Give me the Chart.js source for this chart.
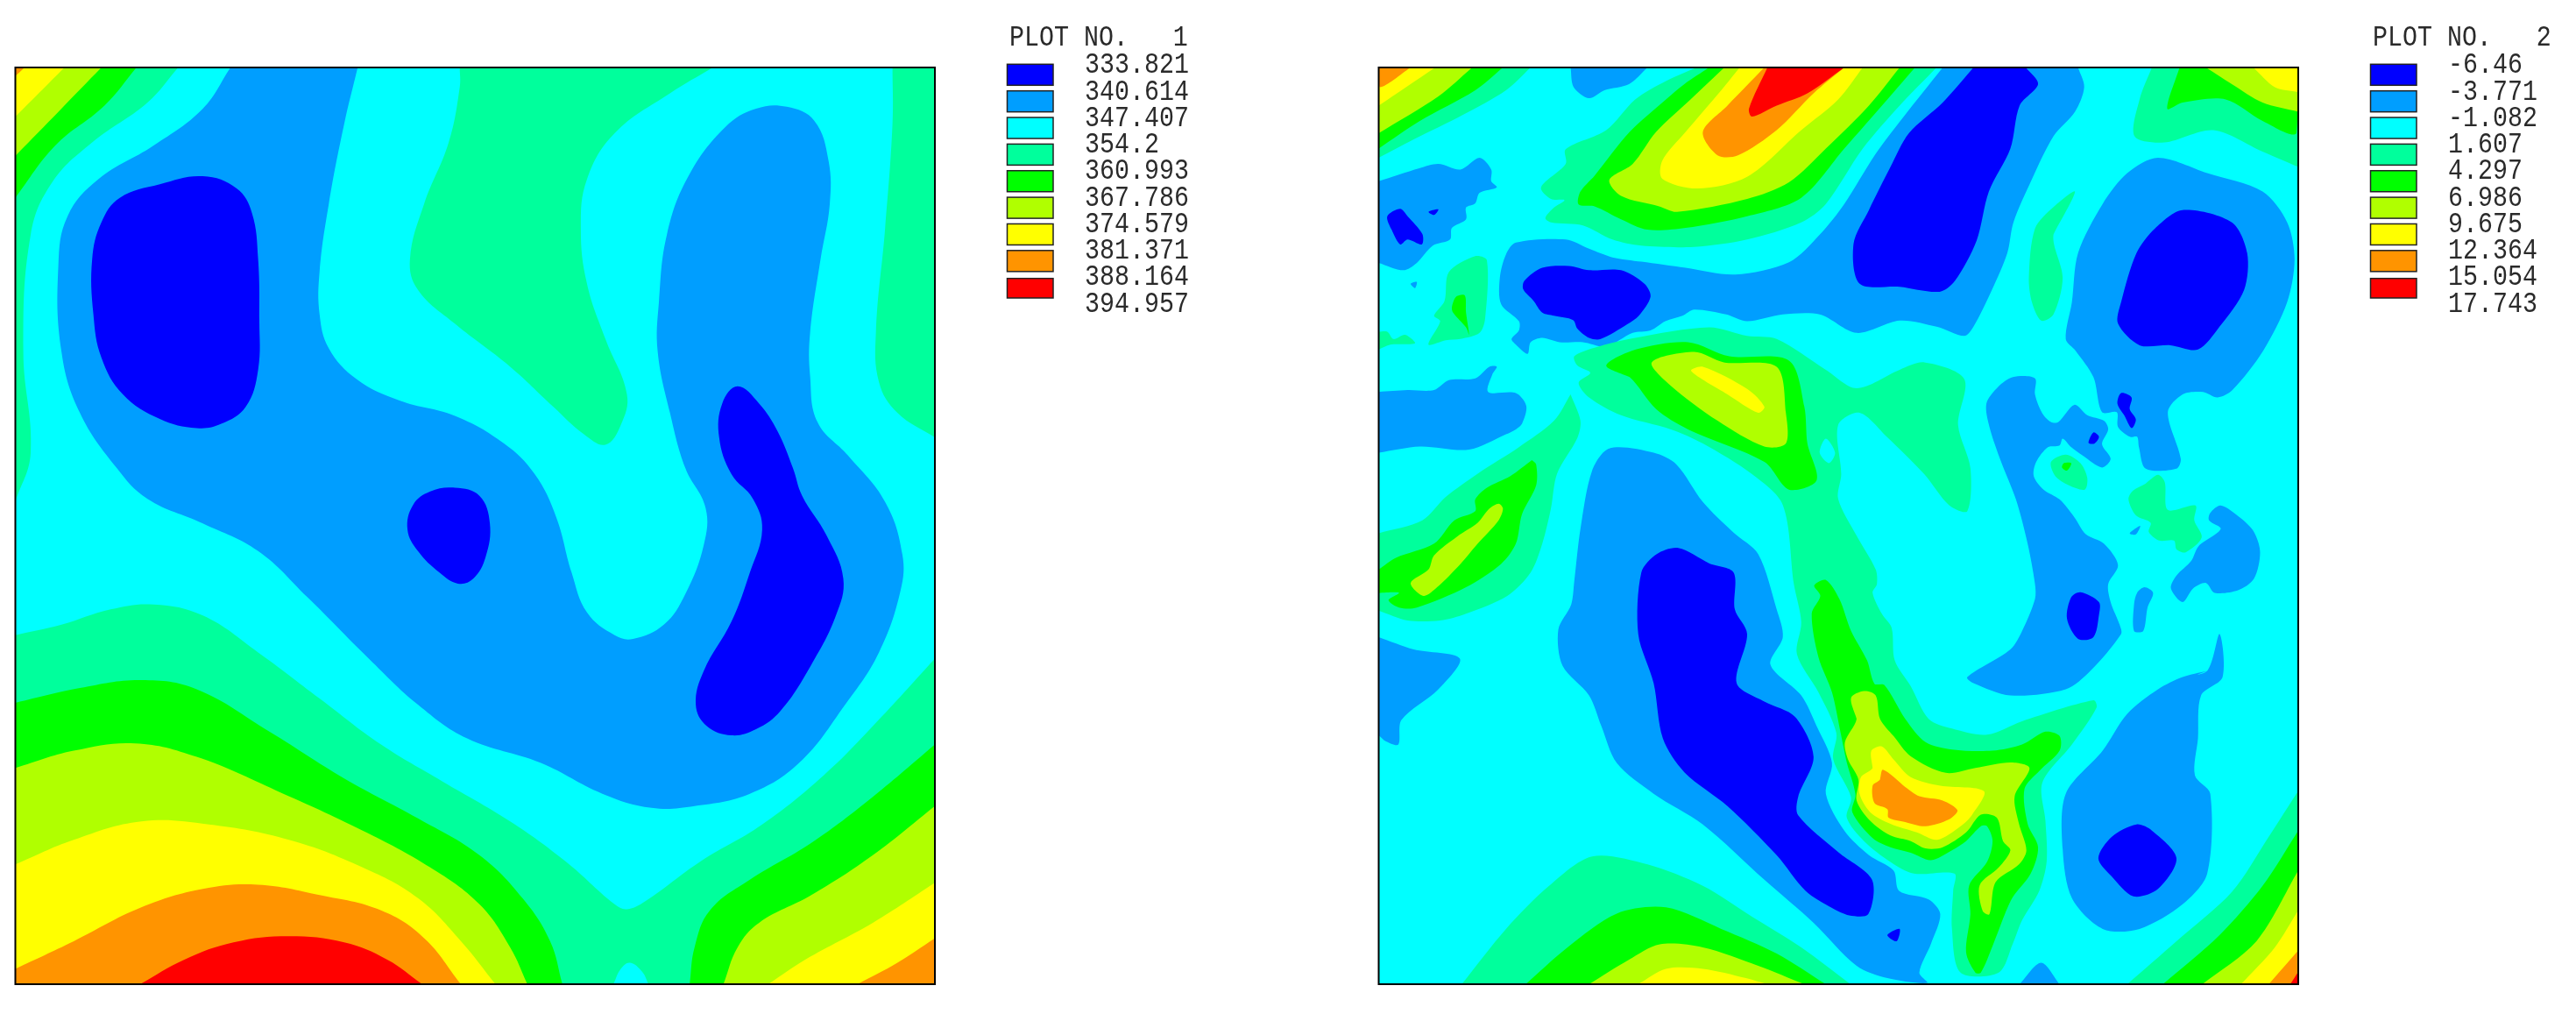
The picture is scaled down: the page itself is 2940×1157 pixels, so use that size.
<!DOCTYPE html>
<html>
<head>
<meta charset="utf-8">
<title>PLOT NO. 1 / PLOT NO. 2</title>
<script src="https://cdn.jsdelivr.net/npm/chart.js@4/dist/chart.umd.js"></script>
<style>
  html, body { margin: 0; background: #fff; }
  canvas { position: absolute; top: 0; }
  #plot1 { left: 0; }
  #plot2 { left: 1555.5px; }
</style>
</head>
<body>
<canvas id="plot1" width="1384" height="1157"></canvas>
<canvas id="plot2" width="1384" height="1157"></canvas>
<script>
// contour band colours, lowest to highest
const BLUE = '#0000ff', AZURE = '#009eff', CYAN = '#00ffff', SPRING = '#00ff9c', GREEN = '#00ff00',
  LIME = '#b0ff00', YELLOW = '#ffff00', ORANGE = '#ff9400', RED = '#ff0000';
const LEVEL_COLORS = [BLUE, AZURE, CYAN, SPRING, GREEN, LIME, YELLOW, ORANGE, RED];

const LABELS_1 = ['333.821', '340.614', '347.407', '354.2', '360.993', '367.786', '374.579', '381.371', '388.164', '394.957'];
const LABELS_2 = ['-6.46', '-3.771', '-1.082', '1.607', '4.297', '6.986', '9.675', '12.364', '15.054', '17.743'];

// plot 1 contours, domain x 25..1521, y 38..1530
const A_SPRING_TL = [[25,38],[290,38],[240,95],[150,160],[85,225],[50,310],[38,500],[50,665],[25,745]];
const A_GREEN_TL = [[25,38],[222,38],[170,100],[90,165],[25,250]];
const A_LIME_TL = [[25,38],[165,38],[100,105],[25,182]];
const A_YELLOW_TL = [[25,38],[105,38],[25,118]];
const A_ORANGE_TL = [[25,38],[40,38],[25,52]];
const A_SPRING_TOP = [[748,38],[1160,38],[1090,80],[1000,145],[955,220],[945,300],[955,390],[985,480],[1020,570],[1010,620],[985,652],[950,635],[900,590],[830,525],[740,455],[680,400],[667,350],[690,260],[730,160],[748,70]];
const A_SPRING_RIGHT = [[1452,38],[1521,38],[1521,640],[1460,600],[1430,550],[1425,470],[1440,300],[1452,130]];
const A_AZURE = [[375,38],[582,38],[560,130],[535,260],[520,370],[520,440],[535,495],[580,545],[650,580],[740,605],[820,650],[870,700],[905,770],[930,860],[955,925],[1000,962],[1030,968],[1080,945],[1115,895],[1145,815],[1148,755],[1115,690],[1090,600],[1070,500],[1072,420],[1085,310],[1120,215],[1180,135],[1230,105],[1280,102],[1325,125],[1348,190],[1350,260],[1335,350],[1318,470],[1318,540],[1330,615],[1380,670],[1440,745],[1468,830],[1465,890],[1430,990],[1375,1075],[1300,1170],[1220,1220],[1130,1240],[1060,1243],[980,1220],[880,1170],[760,1130],[680,1075],[600,1000],[500,900],[420,825],[330,780],[240,740],[190,690],[130,600],[100,500],[95,360],[110,280],[160,220],[250,165],[330,105]];
const A_BLUE_1 = [[330,215],[385,235],[410,275],[420,350],[422,450],[420,530],[400,590],[360,618],[320,625],[260,610],[200,570],[165,510],[152,440],[150,350],[165,290],[195,250],[260,228]];
const A_BLUE_2 = [[740,722],[780,735],[797,780],[790,835],[770,870],[745,878],[715,860],[680,825],[663,790],[672,750],[700,728]];
const A_BLUE_3 = [[1200,557],[1235,585],[1265,630],[1290,690],[1305,735],[1345,800],[1372,870],[1360,930],[1320,1010],[1270,1085],[1230,1115],[1190,1125],[1150,1110],[1132,1075],[1145,1020],[1190,940],[1220,860],[1240,790],[1225,740],[1190,700],[1170,640],[1175,585]];
const A_SPRING_BOT = [[25,962],[100,945],[180,920],[250,912],[330,930],[420,990],[520,1065],[620,1140],[720,1200],[830,1265],[920,1330],[1000,1400],[1020,1408],[1050,1395],[1140,1330],[1240,1270],[1340,1190],[1420,1110],[1521,1000],[1521,1530],[25,1530]];
const A_CYAN_BOT = [[998,1530],[1010,1505],[1025,1495],[1045,1510],[1055,1530]];
const A_GREEN_L = [[25,1072],[130,1048],[230,1035],[320,1050],[440,1120],[560,1195],[680,1260],[780,1320],[850,1390],[895,1460],[915,1530],[25,1530]];
const A_GREEN_R = [[1122,1530],[1130,1470],[1155,1410],[1220,1360],[1320,1300],[1420,1225],[1521,1140],[1521,1530]];
const A_LIME_L = [[25,1178],[120,1150],[220,1138],[320,1160],[450,1215],[590,1280],[700,1340],[780,1400],[830,1470],[858,1530],[25,1530]];
const A_LIME_R = [[1177,1530],[1200,1470],[1235,1430],[1320,1385],[1420,1320],[1521,1240],[1521,1530]];
const A_YELLOW_L = [[25,1335],[120,1295],[230,1265],[340,1270],[470,1295],[590,1340],[680,1390],[750,1460],[806,1530],[25,1530]];
const A_YELLOW_R = [[1250,1530],[1310,1490],[1420,1430],[1521,1365],[1521,1530]];
const A_ORANGE_L = [[25,1505],[120,1460],[230,1405],[330,1375],[420,1368],[520,1385],[620,1410],[690,1455],[750,1530],[25,1530]];
const A_ORANGE_R = [[1395,1530],[1460,1495],[1521,1455],[1521,1530]];
const A_RED = [[228,1530],[300,1490],[380,1462],[470,1452],[560,1462],[630,1490],[687,1530]];

// plot 2 contours, domain x 33..1528, y 38..1530
const B_AZ_TOP = [[345,38],[470,38],[440,65],[400,75],[375,88],[350,70]];
const B_AZ_LEFT = [[33,223],[99,202],[130,195],[166,204],[197,185],[216,204],[216,223],[225,233],[197,242],[190,259],[175,266],[175,285],[152,299],[149,318],[121,328],[95,356],[73,368],[33,356]];
const B_AZ_DOT = [[85,390],[95,387],[92,397]];
const B_BL_LEFT = [[68,268],[80,280],[104,309],[103,326],[80,318],[68,326],[54,302],[47,280]];
const B_BL_LEFT2 = [[114,273],[130,269],[123,278]];
const B_AZ_BAND = [[950,38],[1170,38],[1180,70],[1165,110],[1130,150],[1095,220],[1065,290],[1055,340],[1030,400],[1000,460],[985,475],[940,460],[880,450],[810,470],[750,440],[690,440],[632,451],[598,440],[546,432],[527,442],[499,451],[475,466],[446,470],[403,492],[365,485],[327,485],[299,478],[280,485],[275,504],[256,489],[249,480],[261,466],[261,451],[232,423],[230,380],[240,342],[256,323],[337,318],[375,333],[413,347],[460,354],[532,364],[613,375],[700,355],[750,310],[790,260],[840,180],[885,120]];
const B_BL_OVAL = [[270,385],[299,364],[342,361],[375,368],[427,368],[465,390],[475,411],[456,442],[437,456],[394,480],[375,478],[356,463],[349,449],[318,442],[299,437],[285,418],[268,399]];
const B_BL_TOP = [[1000,38],[1085,38],[1105,65],[1075,100],[1060,170],[1025,240],[1005,320],[970,385],[945,403],[880,395],[815,390],[805,325],[830,270],[865,200],[895,145],[950,95]];
const B_AZ_RIGHT = [[1300,185],[1380,210],[1470,240],[1510,290],[1522,350],[1510,420],[1471,499],[1421,563],[1397,575],[1373,566],[1340,570],[1316,599],[1337,675],[1330,691],[1280,691],[1269,656],[1266,639],[1254,639],[1235,623],[1233,599],[1209,599],[1195,542],[1166,499],[1150,480],[1160,420],[1170,340],[1210,260],[1250,210]];
const B_BL_RIGHT = [[1340,270],[1420,290],[1445,340],[1440,400],[1400,460],[1365,497],[1320,490],[1270,490],[1235,455],[1240,420],[1265,340],[1295,300]];
const B_BL_RIGHT2 = [[1240,568],[1257,575],[1254,594],[1264,611],[1257,625],[1245,604],[1234,585]];
const B_AZ_MIDL = [[33,566],[80,563],[123,563],[147,547],[190,544],[213,525],[225,525],[218,537],[211,566],[256,568],[273,589],[266,618],[256,627],[240,635],[180,660],[100,655],[33,665]];
const B_AZ_LOWER = [[408,658],[480,665],[517,684],[560,745],[610,795],[650,830],[680,920],[690,965],[670,1010],[720,1060],[745,1110],[770,1170],[760,1220],[790,1280],[830,1320],[870,1345],[879,1378],[927,1392],[946,1416],[931,1464],[912,1511],[925,1528],[860,1520],[810,1500],[740,1430],[660,1360],[560,1270],[480,1220],[420,1170],[395,1110],[375,1060],[332,1012],[325,953],[346,912],[351,874],[361,789],[380,694]];
const B_BL_LOWER = [[520,820],[570,845],[610,860],[612,920],[632,960],[615,1040],[660,1070],[710,1095],[740,1160],[715,1225],[715,1255],[780,1315],[835,1360],[829,1416],[798,1418],[770,1406],[727,1378],[680,1320],[600,1240],[530,1185],[495,1130],[480,1040],[455,960],[460,860],[485,830]];
const B_BL_LOWER2 = [[860,1450],[880,1440],[875,1460]];
const B_AZ_CENTER = [[1064,542],[1100,544],[1100,570],[1112,601],[1126,615],[1138,615],[1164,587],[1185,604],[1212,613],[1219,627],[1209,651],[1223,675],[1209,689],[1178,670],[1159,656],[1145,642],[1140,653],[1121,656],[1102,680],[1098,703],[1114,725],[1140,741],[1164,770],[1183,798],[1212,813],[1235,848],[1219,879],[1223,908],[1238,946],[1240,960],[1190,1020],[1150,1050],[1060,1060],[1000,1040],[990,1030],[1060,985],[1079,955],[1100,903],[1100,879],[1088,813],[1069,741],[1045,680],[1026,623],[1021,585],[1040,558]];
const B_BL_CENTER = [[1174,892],[1204,908],[1204,929],[1195,965],[1170,968],[1152,935],[1159,900]];
const B_BL_CENTER2 = [[1195,632],[1204,639],[1197,650],[1187,649]];
const B_AZ_EAST = [[1402,751],[1435,772],[1456,794],[1466,827],[1456,870],[1430,889],[1392,893],[1378,877],[1357,886],[1340,908],[1321,886],[1330,865],[1354,841],[1366,817],[1402,789],[1383,775],[1385,763]];
const B_AZ_SMALL = [[1278,884],[1292,893],[1283,917],[1276,955],[1261,955],[1261,912],[1266,893]];
const B_AZ_DOT2 = [[1254,796],[1271,784],[1264,798]];
const B_AZ_SW = [[33,965],[90,985],[165,1000],[130,1050],[70,1100],[65,1140],[45,1135],[33,1125]];
const B_AZ_SE = [[1340,1030],[1380,1020],[1400,960],[1405,1030],[1370,1060],[1365,1130],[1360,1190],[1385,1220],[1380,1350],[1340,1400],[1270,1440],[1210,1440],[1160,1390],[1145,1310],[1150,1220],[1210,1150],[1250,1090],[1300,1050]];
const B_BL_SE = [[1265,1270],[1290,1280],[1330,1325],[1300,1375],[1260,1387],[1225,1355],[1203,1325],[1225,1290]];
const B_AZ_BOT = [[1075,1530],[1110,1495],[1140,1530]];

const B_SP_TL = [[33,38],[280,38],[240,75],[170,115],[90,155],[33,185]];
const B_GR_TL = [[33,38],[235,38],[190,75],[100,125],[33,170]];
const B_LI_TL = [[33,38],[185,38],[130,85],[33,145]];
const B_YE_TL = [[33,38],[125,38],[33,100]];
const B_OR_TL = [[33,38],[85,38],[35,70]];
const B_SP_RIDGE = [[550,38],[940,38],[880,100],[820,170],[760,260],[720,290],[632,318],[546,330],[460,328],[413,318],[365,295],[313,290],[304,283],[318,266],[335,254],[313,252],[297,233],[337,195],[337,171],[403,140],[450,90],[500,60]];
const B_GR_RIDGE = [[570,38],[905,38],[860,90],[790,170],[720,250],[632,280],[532,299],[470,302],[427,285],[384,264],[358,261],[361,240],[384,214],[441,143],[500,90],[530,65]];
const B_LI_RIDGE = [[595,38],[880,38],[830,100],[760,170],[700,225],[632,252],[518,273],[489,264],[427,247],[408,221],[446,195],[484,143],[540,90]];
const B_YE_RIDGE = [[620,38],[820,38],[780,90],[720,140],[632,216],[551,235],[494,219],[494,190],[532,143],[590,75]];
const B_OR_RIDGE = [[660,38],[790,38],[740,80],[680,140],[617,181],[584,181],[560,143],[600,100]];
const B_RE_RIDGE = [[665,38],[790,38],[730,80],[680,100],[640,118],[635,105]];
const B_SP_TR = [[1290,38],[1528,38],[1528,200],[1470,175],[1390,140],[1310,160],[1262,150],[1270,90]];
const B_GR_TR = [[1335,38],[1528,38],[1525,145],[1470,125],[1410,90],[1340,95],[1315,105]];
const B_LI_TR = [[1378,38],[1528,38],[1528,110],[1470,95],[1420,65]];
const B_YE_TR = [[1455,38],[1528,38],[1528,78],[1490,70]];
const B_SP_NARROW = [[1165,240],[1130,310],[1145,380],[1130,440],[1110,450],[1095,420],[1090,380],[1100,300],[1130,265]];
const B_SP_WEST = [[190,345],[209,352],[206,447],[197,470],[166,480],[142,482],[114,489],[133,451],[123,442],[140,418],[147,371]];
const B_GR_WEST = [[159,411],[173,409],[175,437],[180,473],[175,461],[154,437],[152,428]];
const B_SP_EDGE = [[33,468],[47,468],[57,480],[76,473],[92,487],[52,489],[33,497]];
const B_SP_CENTER = [[351,508],[384,494],[450,478],[570,461],[632,475],[680,480],[760,530],[810,560],[880,530],[920,518],[985,545],[975,620],[995,690],[990,760],[960,750],[920,700],[860,640],[815,600],[780,620],[785,700],[780,740],[810,800],[841,855],[843,879],[836,893],[851,927],[867,950],[872,1003],[898,1045],[927,1098],[965,1114],[1022,1124],[1079,1102],[1195,1068],[1200,1080],[1160,1140],[1112,1202],[1117,1264],[1119,1330],[1107,1378],[1079,1426],[1064,1464],[1041,1511],[979,1511],[965,1440],[967,1378],[969,1350],[903,1350],[865,1331],[822,1297],[794,1259],[801,1226],[772,1164],[777,1121],[748,1055],[713,993],[720,941],[708,879],[690,750],[640,700],[560,650],[508,627],[427,604],[375,575],[358,551],[377,535],[356,523]];
const B_CY_HOLE = [[760,642],[775,665],[765,682],[750,665]];
const B_GR_UP = [[403,523],[451,497],[536,485],[603,508],[700,515],[725,590],[730,650],[745,710],[700,725],[660,680],[536,627],[484,594],[441,542]];
const B_LI_UP = [[477,518],[546,501],[594,518],[680,525],[695,600],[695,650],[660,655],[584,613],[508,556]];
const B_YE_UP = [[541,532],[560,525],[632,561],[660,590],[650,600],[600,570]];
const B_SP_ARM = [[345,570],[361,613],[356,641],[323,699],[313,756],[299,813],[280,860],[242,898],[175,927],[133,938],[80,938],[33,922],[33,796],[104,775],[142,737],[194,699],[261,656],[318,613]];
const B_GR_ARM = [[282,677],[289,684],[289,718],[266,765],[256,813],[232,846],[175,884],[95,917],[66,917],[49,905],[66,893],[33,893],[33,855],[61,836],[123,813],[156,775],[190,760],[190,741],[209,722],[247,703]];
const B_LI_ARM = [[228,748],[235,756],[228,775],[194,813],[166,846],[128,884],[106,898],[85,877],[114,855],[123,832],[161,801],[194,779],[213,756]];
const B_GR_LOW = [[760,872],[782,903],[801,955],[827,1003],[839,1041],[855,1043],[889,1098],[922,1136],[965,1148],[1031,1150],[1079,1140],[1117,1119],[1140,1126],[1140,1150],[1107,1183],[1083,1212],[1088,1269],[1105,1307],[1093,1350],[1064,1388],[1053,1411],[1031,1468],[1012,1511],[1003,1511],[988,1478],[995,1416],[993,1369],[1022,1331],[1031,1297],[1022,1273],[1012,1273],[988,1297],[965,1312],[931,1328],[898,1316],[865,1307],[836,1292],[803,1250],[808,1221],[794,1169],[784,1121],[770,1055],[748,998],[737,927],[751,898],[741,881]];
const B_LI_LOW = [[801,1064],[822,1053],[841,1060],[848,1098],[870,1126],[898,1159],[955,1186],[1003,1178],[1060,1169],[1091,1178],[1067,1224],[1074,1269],[1086,1312],[1074,1335],[1036,1364],[1026,1416],[1015,1411],[1010,1369],[1041,1340],[1060,1312],[1048,1297],[1038,1259],[1012,1254],[988,1283],[950,1307],[922,1309],[898,1297],[865,1288],[832,1264],[810,1231],[813,1197],[796,1164],[791,1136],[810,1098]];
const B_YE_LOW = [[834,1150],[851,1143],[870,1164],[898,1193],[946,1207],[1017,1216],[998,1254],[979,1273],[941,1295],[908,1283],[865,1269],[832,1250],[815,1221],[817,1193],[836,1178]];
const B_OR_LOW = [[853,1181],[889,1209],[912,1224],[950,1231],[974,1247],[960,1262],[922,1273],[889,1266],[862,1259],[860,1245],[839,1235],[836,1207],[848,1197]];
const B_SP_ISLE = [[1126,680],[1150,668],[1174,682],[1185,706],[1181,725],[1155,718],[1133,703]];
const B_GR_ISLE = [[1147,682],[1159,682],[1152,694],[1144,689]];
const B_SP_ISLE2 = [[1300,701],[1311,713],[1316,758],[1361,751],[1359,775],[1371,803],[1345,827],[1330,822],[1326,808],[1302,808],[1285,794],[1288,779],[1264,767],[1252,741],[1259,727],[1280,715]];
const B_SP_BOT = [[168,1530],[240,1440],[310,1370],[380,1322],[470,1335],[560,1370],[640,1420],[720,1470],[800,1530]];
const B_GR_BOT = [[272,1530],[340,1470],[420,1415],[500,1405],[590,1440],[680,1480],[760,1530]];
const B_LI_BOT = [[375,1530],[440,1490],[490,1465],[560,1470],[650,1500],[725,1530]];
const B_YE_BOT = [[455,1530],[500,1505],[560,1505],[630,1520],[665,1530]];
const B_SP_BR = [[1250,1530],[1330,1460],[1420,1380],[1480,1290],[1528,1215],[1528,1530]];
const B_GR_BR = [[1308,1530],[1400,1450],[1470,1370],[1528,1280],[1528,1530]];
const B_LI_BR = [[1372,1530],[1460,1460],[1528,1345],[1528,1530]];
const B_YE_BR = [[1435,1530],[1490,1470],[1528,1410],[1528,1530]];
const B_OR_BR = [[1480,1530],[1528,1475],[1528,1530]];
const B_RE_BR = [[1515,1530],[1528,1510],[1528,1530]];

// painted in this order, later bands over earlier ones
const LAYERS_1 = [
  [A_SPRING_TL, SPRING], [A_GREEN_TL, GREEN], [A_LIME_TL, LIME], [A_YELLOW_TL, YELLOW], [A_ORANGE_TL, ORANGE],
  [A_SPRING_TOP, SPRING], [A_SPRING_RIGHT, SPRING],
  [A_AZURE, AZURE], [A_BLUE_1, BLUE], [A_BLUE_2, BLUE], [A_BLUE_3, BLUE],
  [A_SPRING_BOT, SPRING], [A_CYAN_BOT, CYAN],
  [A_GREEN_L, GREEN], [A_GREEN_R, GREEN], [A_LIME_L, LIME], [A_LIME_R, LIME],
  [A_YELLOW_L, YELLOW], [A_YELLOW_R, YELLOW], [A_ORANGE_L, ORANGE], [A_ORANGE_R, ORANGE], [A_RED, RED],
];
const LAYERS_2 = [
  [B_AZ_TOP, AZURE], [B_AZ_LEFT, AZURE], [B_AZ_DOT, AZURE], [B_BL_LEFT, BLUE], [B_BL_LEFT2, BLUE],
  [B_AZ_BAND, AZURE], [B_BL_OVAL, BLUE], [B_BL_TOP, BLUE],
  [B_AZ_RIGHT, AZURE], [B_BL_RIGHT, BLUE], [B_BL_RIGHT2, BLUE],
  [B_AZ_MIDL, AZURE], [B_AZ_LOWER, AZURE], [B_BL_LOWER, BLUE], [B_BL_LOWER2, BLUE],
  [B_AZ_CENTER, AZURE], [B_BL_CENTER, BLUE], [B_BL_CENTER2, BLUE],
  [B_AZ_EAST, AZURE], [B_AZ_SMALL, AZURE], [B_AZ_DOT2, AZURE], [B_AZ_SW, AZURE], [B_AZ_SE, AZURE], [B_BL_SE, BLUE], [B_AZ_BOT, AZURE],
  [B_SP_TL, SPRING], [B_GR_TL, GREEN], [B_LI_TL, LIME], [B_YE_TL, YELLOW], [B_OR_TL, ORANGE],
  [B_SP_RIDGE, SPRING], [B_GR_RIDGE, GREEN], [B_LI_RIDGE, LIME], [B_YE_RIDGE, YELLOW], [B_OR_RIDGE, ORANGE], [B_RE_RIDGE, RED],
  [B_SP_TR, SPRING], [B_GR_TR, GREEN], [B_LI_TR, LIME], [B_YE_TR, YELLOW],
  [B_SP_NARROW, SPRING], [B_SP_WEST, SPRING], [B_GR_WEST, GREEN], [B_SP_EDGE, SPRING],
  [B_SP_CENTER, SPRING], [B_CY_HOLE, CYAN], [B_GR_UP, GREEN], [B_LI_UP, LIME], [B_YE_UP, YELLOW],
  [B_SP_ARM, SPRING], [B_GR_ARM, GREEN], [B_LI_ARM, LIME],
  [B_GR_LOW, GREEN], [B_LI_LOW, LIME], [B_YE_LOW, YELLOW], [B_OR_LOW, ORANGE],
  [B_SP_ISLE, SPRING], [B_GR_ISLE, GREEN], [B_SP_ISLE2, SPRING],
  [B_SP_BOT, SPRING], [B_GR_BOT, GREEN], [B_LI_BOT, LIME], [B_YE_BOT, YELLOW],
  [B_SP_BR, SPRING], [B_GR_BR, GREEN], [B_LI_BR, LIME], [B_YE_BR, YELLOW], [B_OR_BR, ORANGE], [B_RE_BR, RED],
];

// cyan base, black frame and the legend column right of the plot
const contourPlugin = {
  id: 'contour',
  beforeDatasetsDraw(chart) {
    const { ctx, chartArea: a } = chart;
    ctx.save();
    ctx.fillStyle = CYAN;
    ctx.fillRect(a.left, a.top, a.width, a.height);
    ctx.restore();
  },
  afterDraw(chart, args, opts) {
    const { ctx, chartArea: a } = chart;
    ctx.save();
    ctx.strokeStyle = '#000';
    ctx.lineWidth = 2;
    ctx.strokeRect(a.left, a.top, a.width, a.height);

    LEVEL_COLORS.forEach((color, i) => {
      const top = i === 8 ? 317.7 : 73.3 + i * 30.36;
      const height = i === 8 ? 22.3 : 24;
      ctx.fillStyle = color;
      ctx.fillRect(1149.5, top, 52.5, height);
      ctx.strokeStyle = '#222';
      ctx.lineWidth = 1.5;
      ctx.strokeRect(1149.5, top, 52.5, height);
    });

    const putText = (text, x, y) => {
      ctx.save();
      ctx.translate(x, y);
      ctx.scale(1, 1.18);
      ctx.fillText(text, 0, 0);
      ctx.restore();
    };
    ctx.fillStyle = '#2a2a2a';
    ctx.font = '28.3px "Liberation Mono"';
    putText(opts.title, 1152, 52.3);
    opts.labels.forEach((label, i) => putText(label, 1238, 83.3 + i * 30.27));
    ctx.restore();
  },
};

// close a ring; points on the frame are doubled so the curve keeps its corners there,
// free blobs overlap one step so the seam stays smooth
function closeRing(points, xRange, yRange) {
  const onFrame = ([x, y]) => x <= xRange[0] || x >= xRange[1] || y <= yRange[0] || y >= yRange[1];
  if (points.some(onFrame)) {
    return points.flatMap(p => (onFrame(p) ? [p, p] : [p])).concat([points[0]]);
  }
  return [points[points.length - 1], ...points, points[0], points[1]];
}

function drawPlot(id, layers, xRange, yRange, tension, title, labels) {
  new Chart(document.getElementById(id), {
    type: 'scatter',
    data: {
      // first dataset is painted last, so flip the layer list
      datasets: layers.slice().reverse().map(([points, color]) => ({
        data: closeRing(points, xRange, yRange).map(([x, y]) => ({ x, y })),
        showLine: true,
        fill: 'shape',
        backgroundColor: color,
        borderWidth: 0,
        pointRadius: 0,
        tension,
      })),
    },
    options: {
      responsive: false,
      animation: false,
      layout: { padding: { left: 17.5, top: 77, right: 317, bottom: 34 } },
      scales: {
        x: { display: false, min: xRange[0], max: xRange[1] },
        y: { display: false, min: yRange[0], max: yRange[1], reverse: true },
      },
      plugins: {
        legend: { display: false },
        tooltip: { enabled: false },
        contour: { title, labels },
      },
    },
    plugins: [contourPlugin],
  });
}

drawPlot('plot1', LAYERS_1, [25, 1521], [38, 1530], 0.4, 'PLOT NO.   1', LABELS_1);
drawPlot('plot2', LAYERS_2, [33, 1528], [38, 1530], 0.3, 'PLOT NO.   2', LABELS_2);
</script>
</body>
</html>
